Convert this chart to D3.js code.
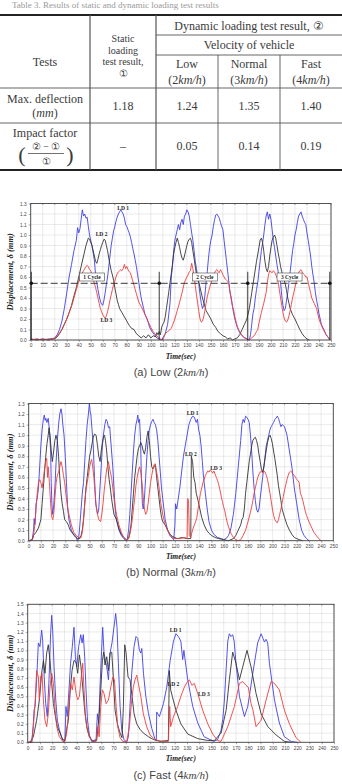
<!DOCTYPE html>
<html>
<head>
<meta charset="utf-8">
<script src="https://cdn.jsdelivr.net/npm/d3@7"></script>
<style>
  body { margin: 0; background: #fff; }
  svg { display: block; }
</style>
</head>
<body>
<div id="fig"></div>
<script>
// ---- table data ----
let tableTitle = "Table 3. Results of static and dynamic loading test results";
let speedNames = ["Low", "Normal", "Fast"];
let speedValues = ["2", "3", "4"];
let maxDeflection = ["1.18", "1.24", "1.35", "1.40"];
let impactFactor = ["\u2013", "0.05", "0.14", "0.19"];

// ---- chart data: [time(sec), displacement(mm)] ----
let timeTicks = d3.range(0, 251, 10);

let lowLD1 = [[0,0.01],[5,0.0],[10,0.01],[15,0.0],[18,0.01],[20,0.02],[22,0.05],[24,0.1],[26,0.18],[28,0.3],[30,0.45],[32,0.6],[34,0.72],[36,0.85],[38,0.95],[39,1.07],[40,1.02],[41,1.06],[42,1.15],[43,1.24],[44,1.18],[45,1.2],[46,1.16],[47,1.17],[48,1.08],[49,1.0],[50,0.95],[51,0.9],[52,0.83],[53,0.76],[54,0.62],[55,0.55],[56,0.48],[57,0.42],[58,0.37],[59,0.34],[60,0.33],[61,0.38],[62,0.45],[63,0.53],[64,0.6],[65,0.7],[66,0.8],[67,0.9],[68,0.97],[69,1.04],[70,1.08],[71,1.13],[72,1.17],[73,1.2],[74,1.22],[75,1.24],[76,1.22],[77,1.2],[78,1.16],[79,1.1],[80,1.08],[81,1.05],[82,1.02],[83,0.98],[84,0.93],[85,0.87],[86,0.82],[87,0.76],[88,0.7],[89,0.62],[90,0.55],[91,0.47],[92,0.4],[94,0.3],[95,0.25],[97,0.2],[99,0.12],[101,0.08],[103,0.05],[105,0.02],[107,0.01],[109,0.0],[110,0.02],[112,0.06],[114,0.15],[116,0.35],[117,0.59],[118,0.7],[119,0.85],[120,0.95],[121,1.0],[122,1.05],[123,1.1],[124,1.05],[125,1.12],[126,1.15],[127,1.1],[128,1.18],[129,1.2],[130,1.24],[131,1.22],[132,1.18],[133,1.1],[134,1.02],[135,0.95],[136,0.85],[137,0.75],[138,0.68],[139,0.6],[140,0.53],[141,0.43],[142,0.35],[143,0.3],[144,0.33],[145,0.42],[146,0.55],[147,0.65],[148,0.78],[149,0.88],[150,0.95],[151,1.0],[152,1.08],[153,1.14],[154,1.19],[155,1.2],[156,1.18],[157,1.16],[158,1.12],[159,1.08],[160,1.05],[161,0.95],[162,0.85],[163,0.75],[164,0.65],[165,0.55],[166,0.45],[167,0.4],[168,0.32],[169,0.25],[170,0.2],[172,0.12],[174,0.07],[176,0.04],[178,0.02],[180,0.01],[182,0.0],[183,0.05],[184,0.15],[185,0.25],[186,0.3],[187,0.4],[188,0.48],[189,0.55],[190,0.65],[191,0.75],[192,0.85],[193,0.92],[194,1.0],[195,1.1],[196,1.18],[197,1.22],[198,1.15],[199,1.2],[200,1.15],[201,1.05],[202,0.95],[203,0.88],[204,0.8],[205,0.72],[206,0.65],[207,0.6],[208,0.55],[209,0.42],[210,0.33],[211,0.28],[212,0.3],[213,0.38],[214,0.45],[215,0.55],[216,0.65],[217,0.75],[218,0.85],[219,0.92],[220,1.0],[221,1.05],[222,1.12],[223,1.18],[224,1.2],[225,1.22],[226,1.18],[227,1.15],[228,1.12],[229,1.1],[230,1.02],[231,0.95],[232,0.88],[233,0.8],[234,0.7],[235,0.62],[236,0.55],[237,0.45],[238,0.38],[239,0.32],[240,0.25],[241,0.2],[242,0.15],[244,0.1],[246,0.05],[248,0.02],[249,0.0]];
let lowLD2 = [[0,0.0],[5,0.01],[10,0.0],[15,0.01],[20,0.01],[22,0.03],[24,0.06],[26,0.1],[28,0.15],[30,0.2],[32,0.26],[34,0.33],[36,0.42],[38,0.5],[40,0.6],[42,0.7],[44,0.8],[46,0.9],[48,0.97],[49,0.96],[50,0.93],[51,0.9],[52,0.85],[53,0.8],[54,0.75],[55,0.73],[56,0.77],[57,0.82],[58,0.86],[59,0.9],[60,0.93],[61,0.96],[62,0.95],[63,0.9],[64,0.85],[65,0.78],[66,0.72],[67,0.66],[68,0.62],[69,0.57],[70,0.5],[71,0.44],[72,0.38],[73,0.34],[74,0.3],[76,0.26],[78,0.22],[80,0.18],[82,0.14],[84,0.11],[86,0.1],[88,0.06],[90,0.04],[92,0.02],[94,0.04],[96,0.02],[98,0.05],[100,0.02],[102,0.04],[104,0.03],[105,0.07],[106,0.05],[107,0.08],[108,0.05],[109,0.12],[110,0.15],[111,0.17],[112,0.22],[113,0.3],[114,0.38],[115,0.46],[116,0.55],[117,0.63],[118,0.72],[119,0.82],[120,0.88],[121,0.93],[122,0.97],[123,0.93],[124,0.88],[125,0.82],[126,0.78],[127,0.76],[128,0.8],[129,0.85],[130,0.9],[131,0.94],[132,0.96],[133,0.97],[134,0.93],[135,0.85],[136,0.78],[137,0.7],[138,0.63],[139,0.58],[140,0.55],[141,0.5],[142,0.45],[143,0.4],[144,0.36],[145,0.32],[146,0.28],[148,0.24],[150,0.2],[152,0.15],[154,0.12],[156,0.08],[158,0.06],[160,0.04],[162,0.03],[164,0.01],[166,0.02],[168,0.0],[170,0.01],[172,0.02],[174,0.05],[176,0.1],[178,0.15],[180,0.2],[182,0.3],[184,0.45],[186,0.6],[188,0.75],[190,0.88],[191,0.95],[192,0.97],[193,0.93],[194,0.85],[195,0.75],[196,0.68],[197,0.65],[198,0.7],[199,0.8],[200,0.88],[201,0.95],[202,0.98],[203,1.0],[204,0.97],[205,0.9],[206,0.83],[207,0.77],[208,0.7],[209,0.65],[210,0.6],[211,0.57],[212,0.53],[213,0.47],[214,0.4],[215,0.35],[216,0.3],[218,0.24],[220,0.2],[222,0.15],[224,0.1],[226,0.06],[228,0.03],[230,0.01],[232,0.0]];
let lowLD3 = [[0,0.01],[5,0.0],[10,0.01],[15,0.0],[20,0.02],[22,0.04],[24,0.07],[26,0.1],[28,0.15],[30,0.2],[32,0.26],[34,0.32],[36,0.4],[38,0.48],[40,0.56],[42,0.62],[44,0.66],[46,0.7],[47,0.71],[48,0.7],[49,0.67],[50,0.66],[51,0.62],[52,0.58],[53,0.54],[54,0.5],[55,0.45],[56,0.4],[57,0.35],[58,0.3],[59,0.27],[60,0.24],[61,0.22],[62,0.21],[63,0.23],[64,0.27],[65,0.32],[66,0.38],[67,0.43],[68,0.48],[69,0.53],[70,0.56],[71,0.6],[72,0.63],[73,0.65],[74,0.66],[75,0.67],[76,0.66],[77,0.68],[78,0.72],[79,0.68],[80,0.7],[81,0.67],[82,0.65],[83,0.64],[84,0.6],[85,0.56],[86,0.52],[87,0.48],[88,0.44],[89,0.4],[90,0.36],[92,0.32],[94,0.27],[96,0.22],[98,0.17],[100,0.12],[102,0.08],[104,0.05],[106,0.03],[108,0.01],[110,0.0],[111,0.03],[112,0.06],[114,0.08],[116,0.1],[117,0.11],[118,0.14],[120,0.2],[122,0.28],[124,0.36],[126,0.45],[128,0.55],[130,0.6],[131,0.62],[132,0.65],[133,0.66],[134,0.73],[135,0.68],[136,0.6],[137,0.52],[138,0.43],[139,0.35],[140,0.27],[141,0.2],[142,0.17],[143,0.18],[144,0.22],[145,0.28],[146,0.35],[147,0.41],[148,0.46],[149,0.5],[150,0.54],[151,0.58],[152,0.62],[153,0.64],[154,0.66],[155,0.67],[156,0.65],[157,0.64],[158,0.67],[159,0.65],[160,0.62],[161,0.6],[162,0.58],[163,0.57],[164,0.56],[165,0.53],[166,0.45],[167,0.38],[168,0.32],[169,0.28],[170,0.22],[171,0.17],[172,0.13],[173,0.1],[175,0.06],[177,0.03],[180,0.01],[182,0.0],[184,0.02],[186,0.04],[188,0.08],[189,0.1],[190,0.16],[192,0.26],[194,0.35],[196,0.45],[197,0.55],[198,0.62],[199,0.66],[200,0.65],[201,0.64],[202,0.66],[203,0.65],[204,0.62],[205,0.6],[206,0.55],[207,0.48],[208,0.4],[209,0.33],[210,0.26],[211,0.21],[212,0.18],[213,0.17],[214,0.19],[215,0.23],[216,0.28],[217,0.34],[218,0.4],[219,0.45],[220,0.5],[221,0.55],[222,0.6],[223,0.64],[224,0.66],[225,0.67],[226,0.65],[227,0.63],[228,0.62],[229,0.6],[230,0.6],[231,0.55],[232,0.5],[233,0.45],[234,0.4],[236,0.35],[238,0.3],[240,0.2],[242,0.14],[244,0.09],[246,0.05],[248,0.02],[249,0.0]];

let normalLD1 = [[0,0],[2,0.0],[3,0.02],[4,0.1],[4.5,0.21],[5,0.15],[5.5,0.2],[6,0.35],[7,0.4],[8,0.5],[9,0.7],[10,0.9],[11,1.05],[12,1.15],[12.8,1.19],[13.5,1.14],[14,1.16],[15,1.12],[16,1.16],[17,1.05],[18,0.85],[18.5,0.55],[19,0.35],[19.7,0.25],[20.5,0.33],[21.5,0.5],[22.5,0.75],[23.5,0.95],[24.5,1.1],[25.5,1.2],[26.5,1.25],[27.3,1.2],[28,1.1],[29,1.0],[30,0.8],[31,0.55],[32,0.3],[33,0.2],[35,0.1],[37,0.05],[39,0.03],[40,0.0],[41,0.02],[42,0.15],[43,0.3],[44,0.45],[45,0.55],[46,0.75],[47,0.95],[48,1.1],[49,1.2],[49.8,1.3],[50.5,1.22],[51,1.2],[52,1.05],[53,0.9],[54,0.6],[55,0.35],[56.5,0.25],[57.5,0.3],[58.5,0.5],[59.5,0.7],[60.5,0.9],[61.5,1.02],[62.5,1.1],[63.5,1.15],[64.5,1.13],[65.5,1.07],[66.5,1.08],[67,1.0],[68,0.85],[69,0.7],[70,0.5],[71,0.3],[72,0.2],[74,0.1],[76,0.05],[78,0.02],[80,0.0],[81,0.02],[82,0.1],[83,0.25],[84,0.45],[85,0.65],[86,0.85],[87,1.0],[88,1.1],[89,1.15],[89.5,1.19],[90.2,1.12],[91,1.15],[91.8,0.95],[92.5,0.6],[93.3,0.35],[94,0.3],[95,0.4],[96,0.6],[97,0.8],[98,0.95],[99,1.05],[100,1.1],[101,1.13],[102,1.15],[103,1.12],[104,1.1],[105,1.05],[106,0.95],[107,0.8],[108,0.65],[109,0.5],[110,0.4],[111,0.3],[112,0.2],[114,0.1],[116,0.05],[118,0.02],[119,0.01],[120,0.15],[120.5,0.35],[121.5,0.3],[122.5,0.38],[124,0.5],[125.5,0.65],[127,0.8],[128.5,0.9],[130,1.0],[131.5,1.1],[133,1.15],[134.5,1.18],[136,1.17],[137.5,1.12],[138.5,1.15],[139.5,1.05],[140.5,1.0],[141.5,0.9],[142.5,0.75],[143.5,0.6],[145,0.45],[146.5,0.3],[148,0.18],[150,0.1],[152,0.06],[155,0.03],[158,0.02],[160,0.01],[162,0.02],[164,0.05],[166,0.12],[168,0.25],[170,0.45],[172,0.7],[174,0.95],[175,1.1],[176,1.15],[177,1.12],[178,1.18],[179,1.17],[180,1.15],[181,1.12],[182,1.0],[183,0.85],[184,0.65],[185,0.5],[186,0.38],[187,0.3],[188,0.27],[189,0.3],[190,0.4],[191,0.5],[192,0.6],[193,0.7],[194,0.8],[195,0.9],[196,0.95],[197,1.0],[198,1.05],[199,1.08],[200,1.1],[201,1.12],[202,1.15],[203,1.16],[204,1.18],[205,1.16],[206,1.12],[207,1.08],[208,1.1],[210,1.08],[212,1.0],[214,0.85],[216,0.7],[218,0.5],[220,0.35],[222,0.2],[224,0.1],[226,0.05],[228,0.02],[230,0.0]];
let normalLD2 = [[0,0],[3,0.01],[4,0.05],[6,0.08],[8,0.12],[10,0.2],[11,0.35],[12,0.5],[13,0.65],[14,0.8],[15,0.92],[16,1.0],[16.7,1.07],[17.5,1.0],[18.5,0.85],[19.4,0.75],[20.5,0.85],[21.5,0.95],[22.4,1.0],[23.5,0.95],[24.5,0.8],[25.5,0.6],[26.5,0.45],[27.5,0.35],[28.5,0.28],[29.5,0.2],[31,0.18],[32.5,0.15],[34,0.1],[36,0.07],[38,0.05],[40,0.02],[42,0.02],[43,0.05],[44,0.1],[45,0.2],[46,0.35],[47,0.5],[48,0.6],[49,0.7],[50,0.8],[51,0.85],[52,0.92],[53,0.98],[54,1.01],[55.3,1.0],[56.5,0.9],[57.5,0.8],[58.6,0.75],[59.5,0.85],[60.5,0.93],[61.5,0.99],[62.2,1.0],[63,0.95],[64,0.85],[65,0.7],[66,0.58],[67,0.5],[68,0.4],[69,0.32],[70,0.25],[72,0.2],[74,0.12],[76,0.06],[78,0.03],[80,0.01],[82,0.02],[83,0.08],[84,0.15],[85,0.3],[86,0.45],[87,0.6],[88,0.7],[89,0.8],[90,0.87],[91,0.9],[92,0.93],[93,0.9],[94,0.85],[95,0.82],[96,0.88],[97,0.98],[98,1.04],[99,0.95],[100,0.8],[101,0.7],[102,0.68],[103,0.7],[104,0.72],[105,0.6],[106,0.5],[107,0.4],[108,0.3],[109,0.22],[110,0.18],[112,0.15],[114,0.1],[116,0.06],[118,0.04],[122,0.02],[126,0.03],[130,0.02],[133,0.02],[133.5,0.8],[134.5,0.75],[135.5,0.6],[136.5,0.55],[137.5,0.45],[139,0.38],[140.5,0.3],[142,0.22],[144,0.15],[146,0.1],[148,0.07],[150,0.05],[153,0.03],[156,0.02],[160,0.01],[164,0.0],[166,0.01],[168,0.02],[170,0.05],[172,0.1],[174,0.15],[175,0.2],[176,0.22],[177,0.3],[178,0.45],[179,0.55],[180,0.65],[181,0.75],[182,0.82],[183,0.9],[184,0.95],[185,0.97],[186,0.98],[187,0.95],[188,0.9],[189,0.82],[190,0.75],[191,0.68],[192,0.65],[193,0.7],[194,0.78],[195,0.86],[196,0.93],[197,0.98],[198,1.0],[199,0.97],[200,0.92],[201,0.85],[202,0.78],[203,0.7],[204,0.62],[205,0.52],[206,0.45],[207,0.38],[208,0.3],[210,0.22],[212,0.15],[214,0.1],[216,0.06],[218,0.03],[220,0.02],[222,0.01],[225,0.0]];
let normalLD3 = [[0,0],[3,0.01],[4,0.05],[5,0.15],[6,0.3],[7,0.45],[8,0.55],[9,0.58],[10,0.55],[11,0.5],[12,0.58],[13,0.68],[14,0.75],[14.8,0.78],[15.5,0.6],[16,0.7],[17,0.55],[18,0.35],[19,0.22],[19.8,0.2],[20.5,0.25],[21.5,0.4],[22.5,0.55],[23.5,0.62],[24.5,0.65],[25.5,0.7],[26.5,0.75],[27.5,0.7],[28.5,0.62],[29.5,0.55],[30.5,0.45],[31.5,0.35],[33,0.25],[35,0.15],[37,0.08],[39,0.05],[41,0.03],[43,0.03],[44,0.08],[45,0.2],[46,0.35],[47,0.48],[48,0.55],[49,0.62],[50,0.7],[51,0.75],[51.7,0.77],[52.5,0.7],[53.5,0.6],[54.5,0.45],[55.5,0.32],[56.5,0.25],[57.5,0.2],[59,0.18],[60,0.25],[61,0.35],[62,0.48],[63,0.58],[64,0.68],[65,0.72],[65.4,0.75],[66.2,0.7],[67,0.65],[68,0.6],[69,0.5],[70,0.4],[71,0.32],[72,0.25],[74,0.15],[76,0.08],[78,0.03],[80,0.01],[82,0.02],[83,0.06],[84,0.12],[85,0.2],[86,0.3],[87,0.4],[88,0.52],[89,0.6],[90,0.66],[91,0.7],[92,0.65],[93,0.55],[94,0.42],[95,0.3],[96,0.25],[97,0.27],[98,0.35],[99,0.45],[100,0.55],[101,0.62],[102,0.68],[103,0.72],[103.7,0.73],[104.5,0.68],[105.5,0.62],[106.5,0.55],[107.5,0.45],[108.5,0.35],[110,0.25],[112,0.15],[114,0.1],[116,0.05],[118,0.03],[120,0.02],[124,0.02],[128,0.03],[130,0.02],[130.5,0.4],[131.2,0.38],[131.8,0.05],[133,0.03],[134,0.08],[135,0.12],[136,0.15],[137,0.18],[138,0.22],[139,0.3],[140,0.38],[141,0.45],[142,0.5],[143,0.55],[144,0.58],[145,0.62],[146,0.64],[147,0.66],[148,0.65],[149,0.67],[150,0.66],[151,0.64],[152,0.66],[153,0.63],[154,0.6],[155,0.57],[156,0.53],[157,0.48],[158,0.42],[159,0.37],[160,0.32],[161,0.28],[162,0.22],[163,0.17],[164,0.13],[165,0.1],[166,0.07],[167,0.05],[168,0.03],[170,0.01],[172,0.0],[174,0.01],[176,0.05],[178,0.1],[180,0.18],[182,0.27],[183,0.32],[184,0.38],[185,0.45],[186,0.5],[187,0.55],[188,0.6],[189,0.63],[190,0.65],[191,0.66],[192,0.64],[193,0.66],[194,0.65],[195,0.62],[196,0.58],[197,0.52],[198,0.45],[199,0.38],[200,0.3],[201,0.24],[202,0.2],[203,0.18],[204,0.17],[205,0.2],[206,0.25],[207,0.3],[208,0.36],[209,0.42],[210,0.48],[211,0.53],[212,0.58],[213,0.62],[214,0.65],[215,0.66],[216,0.65],[217,0.63],[218,0.62],[219,0.6],[220,0.58],[221,0.57],[222,0.55],[223,0.45],[224,0.42],[225,0.38],[226,0.33],[227,0.28],[228,0.24],[230,0.18],[232,0.13],[234,0.08],[236,0.05],[238,0.02],[240,0.0]];

let fastLD1 = [[0,0],[3.3,0],[4.6,0.2],[5.2,0.35],[6,0.39],[7.3,0.68],[8.7,1.08],[10,1.04],[11.4,1.22],[12.2,1.11],[13.3,0.75],[14.7,0.42],[16,0.28],[17.4,0.68],[18.7,1.18],[19.6,1.38],[20.4,1.22],[21.5,0.82],[22.9,0.46],[24.2,0.24],[25.8,0.14],[27.7,0.05],[29.6,0],[30.4,0.03],[31.2,0.39],[32.3,0.28],[33.7,0.57],[35,0.86],[36.4,1.04],[37.8,1.25],[38.9,0.93],[40,0.82],[41.6,1.04],[43.3,1.17],[44.4,1.08],[45.4,1.17],[46.5,0.93],[47.6,0.57],[48.8,0.24],[50.3,0.08],[52.2,0.01],[55.8,0.03],[56.9,0.31],[58,0.21],[59,0.6],[60.1,0.93],[61.2,1.25],[62.3,0.97],[63.4,0.89],[64.5,0.82],[65.9,0.68],[67.2,0.97],[68.8,1.08],[70.4,1.25],[71.8,1.4],[72.9,1.25],[74,0.86],[75.4,0.39],[76.7,0.14],[78.6,0.03],[80.8,0],[82.2,0.06],[83.5,0.39],[84.9,0.75],[86.8,1.04],[88.4,1.15],[89.8,1.13],[91.2,1.0],[92.3,0.97],[93.1,1.02],[94.5,0.75],[96.4,0.5],[98.6,0.31],[101.3,0.15],[104,0.03],[105,0.02],[105.3,0.33],[107.5,0.28],[110.8,0.42],[113.5,0.6],[116.3,0.89],[119,1.1],[121,1.18],[123,1.15],[125,1.1],[126.5,0.9],[127.5,1.0],[130.6,0.68],[134.7,0.39],[138.8,0.21],[144,0.06],[152,0.01],[155,0.03],[157.8,0.13],[159.2,0.25],[160.5,0.45],[162,0.8],[163.3,1.1],[164.6,1.18],[166,1.15],[167.3,1.17],[168.5,1.1],[170,0.86],[172.8,0.5],[176.9,0.28],[179.6,0.39],[181.5,0.55],[183.7,0.75],[187.7,1.08],[190.5,1.18],[193.2,1.09],[194.5,1.12],[195.9,1.08],[197.3,0.86],[201.4,0.46],[205.4,0.21],[209.5,0.06],[215,0.01],[220,0]];
let fastLD2 = [[0,0],[1.9,0],[4.6,0.06],[7.3,0.24],[9.5,0.46],[11.4,0.75],[12.8,0.89],[14.1,0.75],[15.5,0.97],[16.8,1.06],[18.2,0.89],[19.6,0.64],[21,0.42],[22.6,0.28],[24.2,0.17],[26.4,0.1],[28.6,0.03],[30.4,0.02],[31.8,0.14],[33.2,0.24],[34.5,0.53],[36.2,0.78],[37.8,0.89],[39.5,0.87],[40.8,0.75],[42.2,0.95],[43.5,0.82],[44.9,0.6],[46.5,0.35],[48.2,0.17],[50.3,0.06],[53,0.01],[56.3,0.02],[58,0.24],[59.6,0.57],[61,0.89],[62,0.98],[63.1,0.84],[64.5,0.93],[65.9,0.78],[67.2,0.97],[68.6,0.98],[70,0.68],[71.3,0.35],[73.2,0.2],[75.4,0.1],[77,0.05],[78.1,0.39],[79.2,1.06],[80.3,0.97],[81.9,0.71],[83.5,0.68],[85.2,0.5],[86.8,0.31],[89,0.2],[91.7,0.14],[94.4,0.1],[98.6,0.06],[102.6,0.03],[108,0.01],[114.8,0.02],[115.6,0.78],[116.7,0.57],[118,0.5],[121,0.35],[125,0.2],[130.6,0.09],[138.8,0.04],[147,0.02],[152.4,0.02],[157.8,0.1],[162,0.35],[164.6,0.68],[167.3,0.98],[170,0.86],[172.8,0.68],[175.5,0.82],[179,1.0],[182.3,0.82],[186.4,0.53],[190.5,0.31],[196,0.17],[202.7,0.08],[209.5,0.01],[215,0]];
let fastLD3 = [[0,0],[3.3,0],[4.6,0.17],[6,0.42],[7.3,0.78],[8.7,0.71],[9.5,0.46],[10.6,0.71],[11.7,0.75],[12.8,0.46],[14.1,0.24],[15.5,0.17],[16.8,0.31],[18.2,0.6],[19.6,0.75],[21,0.64],[22.4,0.35],[23.7,0.17],[25.8,0.06],[28.6,0.01],[30.4,0.01],[31.8,0.1],[33.2,0.31],[35,0.64],[36.4,0.57],[37.8,0.71],[39.5,0.53],[40.8,0.46],[42.2,0.5],[43.5,0.68],[44.9,0.86],[46,0.57],[47.1,0.28],[48.8,0.12],[50.9,0.05],[53.6,0.01],[55.8,0.01],[57.2,0.17],[58.3,0.06],[59.6,0.39],[61,0.57],[62.3,0.53],[64,0.42],[65.9,0.46],[67.8,0.6],[69.5,0.71],[70.8,0.68],[72.2,0.39],[73.5,0.17],[75.4,0.05],[77.6,0.01],[80.8,0.01],[83,0.17],[84.9,0.46],[86.2,0.6],[87.6,0.68],[89,0.73],[90.3,0.64],[92.3,0.5],[94.4,0.31],[97.1,0.17],[99.8,0.08],[103.9,0.03],[109.3,0.01],[114.8,0.01],[115.9,0.39],[116.7,0.17],[119,0.28],[122.4,0.39],[125,0.5],[127.9,0.6],[130,0.65],[132,0.68],[134,0.62],[136,0.64],[138.8,0.53],[142.8,0.35],[147,0.2],[151,0.09],[155,0.02],[157.8,0.01],[163.3,0.17],[168.7,0.39],[172.8,0.64],[175.5,0.66],[178.2,0.62],[180,0.6],[182.3,0.42],[183.7,0.36],[186.4,0.17],[190.5,0.24],[194.6,0.46],[198.6,0.66],[201.4,0.64],[205.4,0.57],[209.5,0.35],[213.6,0.2],[219,0.05],[223,0]];

// cycle markers for the low-speed test
let cycleBounds = [0.5, 107, 180.7, 249];
let cycleLevel = 0.54;
let cycleLabels = [["1 Cycle", 51], ["2 Cycle", 145], ["3 Cycle", 215.5]];

// LD labels: [text, time, displacement]
let lowNotes = [["LD 1", 77, 1.26], ["LD 2", 59, 1.01], ["LD 3", 63, 0.19]];
let normalNotes = [["LD 1", 134.6, 1.21], ["LD 2", 133.2, 0.82], ["LD 3", 153.8, 0.69]];
let fastNotes = [["LD 1", 120.8, 1.22], ["LD 2", 118.9, 0.63], ["LD 3", 143.9, 0.53]];

let seriesColors = ["#4040e4", "#333333", "#ec4040"];

let width = 342, height = 784;
let svg = d3.select("#fig").append("svg")
  .attr("width", width).attr("height", height);
svg.append("rect").attr("width", width).attr("height", height).attr("fill", "#fff");

let serif = "'Liberation Serif', 'DejaVu Serif', serif";
let sans = "'Liberation Sans', Arial, sans-serif";

// ---------------- table ----------------
let tbl = svg.append("g").attr("font-family", serif).attr("fill", "#3a3a3a").attr("font-size", 12);

tbl.append("text").attr("x", 12).attr("y", 8).attr("font-size", 9).attr("fill", "#999")
  .text(tableTitle);

let colX = [0, 90, 156, 218, 280, 342];
let rowY = [15, 35, 55, 88, 123, 170];
let lc = "#555";
tbl.append("line").attr("x1", 0).attr("x2", 342).attr("y1", rowY[0]).attr("y2", rowY[0]).attr("stroke", "#222").attr("stroke-width", 2);
tbl.append("line").attr("x1", 0).attr("x2", 342).attr("y1", rowY[5]).attr("y2", rowY[5]).attr("stroke", "#222").attr("stroke-width", 2);
[rowY[1], rowY[2]].forEach(y => tbl.append("line").attr("x1", colX[2]).attr("x2", 342).attr("y1", y).attr("y2", y).attr("stroke", lc).attr("stroke-width", 0.9));
[rowY[3], rowY[4]].forEach(y => tbl.append("line").attr("x1", 0).attr("x2", 342).attr("y1", y).attr("y2", y).attr("stroke", lc).attr("stroke-width", 0.9));
[colX[1], colX[2]].forEach(x => tbl.append("line").attr("x1", x).attr("x2", x).attr("y1", rowY[0]).attr("y2", rowY[5]).attr("stroke", lc).attr("stroke-width", 1.2));
[colX[3], colX[4]].forEach(x => tbl.append("line").attr("x1", x).attr("x2", x).attr("y1", rowY[2]).attr("y2", rowY[5]).attr("stroke", lc).attr("stroke-width", 0.9));

function ctext(x, y, s, opts) {
  let t = tbl.append("text").attr("x", x).attr("y", y).attr("text-anchor", "middle")
    .attr("dominant-baseline", "central").text(s);
  if (opts && opts.italic) t.attr("font-style", "italic");
  if (opts && opts.size) t.attr("font-size", opts.size);
  return t;
}
ctext(45, 62, "Tests");
ctext(123, 38.5, "Static", { size: 10 });
ctext(123, 50, "loading", { size: 10 });
ctext(123, 61.5, "test result,", { size: 10 });
ctext(123, 73.5, "\u2460", { size: 10 });
ctext(249, 25.5, "Dynamic loading test result, \u2461");
ctext(249, 45, "Velocity of vehicle");
speedNames.forEach((s, i) => {
  let cx = (colX[i + 2] + colX[i + 3]) / 2;
  ctext(cx, 64, s);
  let t = tbl.append("text").attr("x", cx).attr("y", 79.5).attr("text-anchor", "middle")
    .attr("dominant-baseline", "central");
  t.append("tspan").text("(" + speedValues[i]);
  t.append("tspan").attr("font-style", "italic").text("km/h");
  t.append("tspan").text(")");
});
ctext(45, 98.5, "Max. deflection");
let mm = tbl.append("text").attr("x", 45).attr("y", 113).attr("text-anchor", "middle").attr("dominant-baseline", "central");
mm.append("tspan").text("(");
mm.append("tspan").attr("font-style", "italic").text("mm");
mm.append("tspan").text(")");
maxDeflection.forEach((v, i) => ctext((colX[i + 1] + colX[i + 2]) / 2, 106, v));
ctext(45, 132.5, "Impact factor");
ctext(46, 146, "\u2461 \u2212 \u2460", { size: 10 });
tbl.append("line").attr("x1", 28).attr("x2", 64).attr("y1", 153.5).attr("y2", 153.5).attr("stroke", "#333").attr("stroke-width", 0.7);
ctext(46, 161, "\u2460", { size: 10 });
ctext(22, 154, "(", { size: 22 });
ctext(70, 154, ")", { size: 22 });
impactFactor.forEach((v, i) => ctext((colX[i + 1] + colX[i + 2]) / 2, 146, v));

// ---------------- charts ----------------
function drawChart(cfg) {
  let x = d3.scaleLinear().domain([0, 250]).range([cfg.x0, cfg.x1]);
  let y = d3.scaleLinear().domain([0, cfg.yMax]).range([cfg.y0, cfg.y1]);
  let g = svg.append("g");
  let yTicks = d3.range(0, cfg.yMax + 0.001, 0.1);

  // grid
  g.selectAll(".vg").data(timeTicks).enter().append("line")
    .attr("x1", d => x(d)).attr("x2", d => x(d)).attr("y1", cfg.y0).attr("y2", cfg.y1)
    .attr("stroke", "#d4d4d4").attr("stroke-width", 0.5);
  g.selectAll(".hg").data(yTicks).enter().append("line")
    .attr("x1", cfg.x0).attr("x2", cfg.x1).attr("y1", d => y(d)).attr("y2", d => y(d))
    .attr("stroke", "#d4d4d4").attr("stroke-width", 0.5);

  // axes
  let xAxis = d3.axisBottom(x).tickValues(timeTicks).tickSize(2).tickPadding(2).tickFormat(d3.format("d"));
  let yAxis = d3.axisLeft(y).tickValues(yTicks).tickSize(2).tickPadding(2).tickFormat(d3.format(".1f"));
  let xa = g.append("g").attr("transform", "translate(0," + cfg.y0 + ")").call(xAxis);
  let ya = g.append("g").attr("transform", "translate(" + cfg.x0 + ",0)").call(yAxis);
  [xa, ya].forEach(a => {
    a.select(".domain").remove();
    a.selectAll("line").attr("stroke", "#555").attr("stroke-width", 0.5);
    a.selectAll("text").attr("font-family", sans).attr("font-size", 4.8).attr("fill", "#444");
  });
  // inner ticks on top edge
  g.selectAll(".tt").data(timeTicks).enter().append("line")
    .attr("x1", d => x(d)).attr("x2", d => x(d)).attr("y1", cfg.y1).attr("y2", cfg.y1 + 1.5)
    .attr("stroke", "#555").attr("stroke-width", 0.5);

  // series
  let line = d3.line().x(d => x(d[0])).y(d => y(d[1]));
  cfg.series.forEach((s, i) => {
    g.append("path").datum(s).attr("d", line).attr("fill", "none")
      .attr("stroke", seriesColors[i]).attr("stroke-width", 0.9).attr("stroke-linejoin", "round");
  });

  // frame
  g.append("rect").attr("x", cfg.x0).attr("y", cfg.y1).attr("width", cfg.x1 - cfg.x0).attr("height", cfg.y0 - cfg.y1)
    .attr("fill", "none").attr("stroke", "#444").attr("stroke-width", 0.9);

  // notes
  g.selectAll(".note").data(cfg.notes).enter().append("text")
    .attr("x", d => x(d[1])).attr("y", d => y(d[2])).attr("text-anchor", "middle")
    .attr("dominant-baseline", "central")
    .attr("font-family", serif).attr("font-weight", "bold").attr("font-size", 5.5).attr("fill", "#222")
    .text(d => d[0]);

  // axis titles
  g.append("text").attr("transform", "translate(10," + ((cfg.y0 + cfg.y1) / 2) + ") rotate(-90)")
    .attr("text-anchor", "middle").attr("dominant-baseline", "central")
    .attr("font-family", serif).attr("font-weight", "bold").attr("font-style", "italic")
    .attr("font-size", 8.5).attr("fill", "#222").text("Displacement, \u03b4 (mm)");
  g.append("text").attr("x", (cfg.x0 + cfg.x1) / 2).attr("y", cfg.y0 + 16)
    .attr("text-anchor", "middle").attr("dominant-baseline", "central")
    .attr("font-family", serif).attr("font-weight", "bold").attr("font-style", "italic")
    .attr("font-size", 7.5).attr("fill", "#222").text("Time(sec)");

  // caption
  let cap = g.append("text").attr("x", 171).attr("y", cfg.capY).attr("text-anchor", "middle")
    .attr("dominant-baseline", "central").attr("font-family", sans).attr("font-size", 11).attr("fill", "#444");
  cap.append("tspan").text(cfg.caption + "  (" + cfg.speed);
  cap.append("tspan").attr("font-family", serif).attr("font-style", "italic").text("km/h");
  cap.append("tspan").text(")");

  return { g: g, x: x, y: y };
}

let low = drawChart({ x0: 30.7, x1: 331, y0: 340, y1: 203.5, yMax: 1.3,
  series: [lowLD1, lowLD2, lowLD3], notes: lowNotes, capY: 372, caption: "(a)  Low", speed: "2" });
let normal = drawChart({ x0: 28.7, x1: 333.3, y0: 540.7, y1: 403.5, yMax: 1.3,
  series: [normalLD1, normalLD2, normalLD3], notes: normalNotes, capY: 572, caption: "(b)  Normal", speed: "3" });
let fast = drawChart({ x0: 27.7, x1: 334, y0: 742.3, y1: 604.3, yMax: 1.5,
  series: [fastLD1, fastLD2, fastLD3], notes: fastNotes, capY: 775, caption: "(c)  Fast", speed: "4" });

// cycle markers on the low-speed chart
let lg = low.g;
lg.append("line").attr("x1", low.x(0)).attr("x2", low.x(250))
  .attr("y1", low.y(cycleLevel)).attr("y2", low.y(cycleLevel))
  .attr("stroke", "#222").attr("stroke-width", 0.9).attr("stroke-dasharray", "7,3");
lg.selectAll(".cb").data(cycleBounds).enter().append("line")
  .attr("x1", d => low.x(d)).attr("x2", d => low.x(d)).attr("y1", low.y(0)).attr("y2", low.y(0.65))
  .attr("stroke", "#222").attr("stroke-width", 0.9);
lg.selectAll(".cd").data(cycleBounds).enter().append("circle")
  .attr("cx", d => low.x(d)).attr("cy", low.y(cycleLevel)).attr("r", 1.8).attr("fill", "#111");
let cl = lg.selectAll(".cl").data(cycleLabels).enter().append("g")
  .attr("transform", d => "translate(" + low.x(d[1]) + "," + low.y(0.6) + ")");
cl.append("rect").attr("x", -12.5).attr("y", -4).attr("width", 25).attr("height", 8)
  .attr("fill", "#fff").attr("stroke", "#444").attr("stroke-width", 0.6);
cl.append("text").attr("text-anchor", "middle").attr("dominant-baseline", "central")
  .attr("font-family", serif).attr("font-weight", "bold").attr("font-size", 5.5).attr("fill", "#222")
  .text(d => d[0]);
</script>
</body>
</html>
